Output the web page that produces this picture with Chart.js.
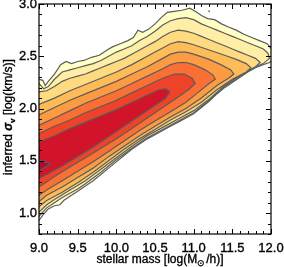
<!DOCTYPE html>
<html><head><meta charset="utf-8">
<script src="https://cdn.jsdelivr.net/npm/chart.js@4"></script>
<style>html,body{margin:0;padding:0;background:#fff}#wrap{width:284px;height:267px;position:relative}</style>
</head><body><div id="wrap"><canvas id="c" width="284" height="267"></canvas></div>
<script>
// axis ranges and tick labels
const xRange=[9.0,12.0];
const yRange=[0.8,3.0];
const xTicks=[9.0,9.5,10.0,10.5,11.0,11.5,12.0];
const yTicks=[1.0,1.5,2.0,2.5,3.0];
const xTitle=["stellar mass [log(M","⊙","/h)]"];
const yTitle=["inferred ","σ","v"," [log(km/s)]"];

// contour polygons (x = log stellar mass, y = log sigma), outermost first
const level1=[[8.95,2.29],[9.0,2.28],[9.05,2.27],[9.08,2.22],[9.12,2.26],[9.2,2.33],[9.28,2.42],[9.35,2.45],[9.42,2.43],[9.5,2.45],[9.58,2.46],[9.68,2.49],[9.78,2.51],[9.88,2.56],[9.95,2.59],[10.05,2.62],[10.15,2.65],[10.22,2.68],[10.28,2.75],[10.34,2.73],[10.42,2.76],[10.5,2.81],[10.58,2.87],[10.66,2.92],[10.75,2.93],[10.85,2.94],[10.95,2.96],[11.02,2.93],[11.1,2.89],[11.18,2.86],[11.27,2.85],[11.36,2.81],[11.45,2.78],[11.55,2.75],[11.65,2.71],[11.75,2.68],[11.85,2.65],[11.95,2.62],[12.02,2.56],[12.04,2.48],
 [11.98,2.44],[11.9,2.42],[11.8,2.39],[11.7,2.35],[11.6,2.30],[11.5,2.25],[11.4,2.20],[11.3,2.14],[11.2,2.07],[11.1,2.01],[11.0,1.95],[10.9,1.91],[10.8,1.87],[10.7,1.83],[10.6,1.79],[10.5,1.75],[10.4,1.71],[10.3,1.66],[10.2,1.61],[10.1,1.55],[10.0,1.49],[9.9,1.43],[9.8,1.37],[9.7,1.31],[9.6,1.26],[9.5,1.21],[9.4,1.16],[9.32,1.12],[9.27,1.08],[9.2,1.07],[9.12,1.04],[9.05,0.98],[9.0,0.93],[8.95,0.89]];
const level2=[[8.95,2.25],[9.0,2.24],[9.06,2.19],[9.12,2.21],[9.2,2.28],[9.3,2.35],[9.4,2.37],[9.5,2.39],[9.6,2.41],[9.7,2.43],[9.8,2.46],[9.9,2.50],[10.0,2.54],[10.1,2.57],[10.2,2.60],[10.3,2.65],[10.4,2.69],[10.5,2.74],[10.6,2.80],[10.7,2.84],[10.8,2.86],[10.9,2.87],[11.0,2.85],[11.1,2.81],[11.2,2.78],[11.3,2.75],[11.4,2.72],[11.5,2.69],[11.6,2.66],[11.7,2.63],[11.8,2.60],[11.9,2.57],[11.96,2.53],[11.98,2.48],
 [11.9,2.43],[11.8,2.40],[11.6,2.31],[11.4,2.21],[11.2,2.08],[11.0,1.96],[10.8,1.88],[10.6,1.80],[10.4,1.72],[10.2,1.62],[10.0,1.51],[9.8,1.39],[9.6,1.28],[9.5,1.23],[9.4,1.19],[9.3,1.15],[9.2,1.10],[9.1,1.05],[9.0,0.97],[8.95,0.94]];
const level3=[[8.95,2.17],[9.0,2.16],[9.1,2.17],[9.2,2.21],[9.3,2.26],[9.4,2.29],[9.5,2.31],[9.6,2.33],[9.7,2.36],[9.8,2.39],[9.9,2.42],[10.0,2.45],[10.1,2.48],[10.2,2.52],[10.3,2.56],[10.4,2.60],[10.5,2.64],[10.6,2.69],[10.7,2.73],[10.8,2.75],[10.9,2.74],[11.0,2.72],[11.1,2.69],[11.2,2.66],[11.3,2.63],[11.4,2.60],[11.5,2.57],[11.6,2.54],[11.7,2.51],[11.8,2.48],[11.86,2.44],
 [11.8,2.40],[11.6,2.32],[11.4,2.22],[11.2,2.09],[11.0,1.98],[10.8,1.90],[10.6,1.82],[10.4,1.74],[10.2,1.64],[10.0,1.53],[9.8,1.42],[9.6,1.31],[9.4,1.22],[9.2,1.13],[9.1,1.08],[9.0,1.01],[8.95,0.98]];
const level4=[[8.95,2.05],[9.0,2.04],[9.2,2.10],[9.4,2.17],[9.6,2.23],[9.8,2.29],[10.0,2.35],[10.2,2.42],[10.4,2.50],[10.5,2.54],[10.6,2.58],[10.7,2.62],[10.8,2.64],[10.9,2.63],[11.0,2.61],[11.2,2.56],[11.4,2.51],[11.55,2.47],[11.68,2.43],[11.74,2.39],
 [11.68,2.35],[11.5,2.28],[11.3,2.18],[11.1,2.06],[10.9,1.97],[10.7,1.89],[10.5,1.80],[10.3,1.71],[10.1,1.61],[9.9,1.50],[9.7,1.39],[9.5,1.29],[9.3,1.20],[9.1,1.12],[9.0,1.06],[8.95,1.03]];
const level5=[[8.95,1.95],[9.0,1.94],[9.2,2.01],[9.4,2.08],[9.6,2.14],[9.8,2.20],[10.0,2.26],[10.2,2.33],[10.4,2.40],[10.6,2.48],[10.7,2.52],[10.8,2.54],[10.9,2.54],[11.0,2.52],[11.2,2.47],[11.35,2.42],[11.48,2.37],[11.52,2.33],
 [11.45,2.29],[11.3,2.22],[11.1,2.10],[10.9,2.00],[10.7,1.92],[10.5,1.83],[10.3,1.74],[10.1,1.64],[9.9,1.54],[9.7,1.43],[9.5,1.34],[9.3,1.25],[9.1,1.17],[9.0,1.11],[8.95,1.08]];
const level6=[[8.95,1.85],[9.0,1.84],[9.2,1.91],[9.4,1.98],[9.6,2.05],[9.8,2.11],[10.0,2.17],[10.2,2.24],[10.4,2.31],[10.6,2.38],[10.7,2.42],[10.8,2.44],[10.9,2.44],[11.0,2.42],[11.15,2.37],[11.25,2.32],[11.28,2.28],
 [11.2,2.24],[11.05,2.15],[10.9,2.06],[10.7,1.97],[10.5,1.88],[10.3,1.79],[10.1,1.69],[9.9,1.59],[9.7,1.49],[9.5,1.40],[9.3,1.31],[9.1,1.22],[9.0,1.17],[8.95,1.14]];
const level7=[[8.95,1.77],[9.0,1.76],[9.2,1.83],[9.4,1.89],[9.6,1.96],[9.8,2.02],[10.0,2.08],[10.2,2.15],[10.4,2.22],[10.6,2.29],[10.75,2.33],[10.88,2.33],[10.98,2.29],[11.02,2.24],
 [10.95,2.19],[10.8,2.11],[10.6,2.01],[10.4,1.91],[10.2,1.81],[10.0,1.71],[9.8,1.62],[9.6,1.53],[9.4,1.44],[9.2,1.35],[9.0,1.25],[8.95,1.22]];
const level8=[[8.95,1.67],[9.0,1.68],[9.2,1.74],[9.4,1.81],[9.6,1.87],[9.8,1.93],[10.0,1.99],[10.2,2.06],[10.4,2.13],[10.55,2.18],[10.64,2.19],[10.69,2.16],
 [10.64,2.10],[10.5,2.03],[10.3,1.93],[10.1,1.83],[9.9,1.73],[9.7,1.63],[9.5,1.54],[9.3,1.45],[9.1,1.37],[9.0,1.33],[8.95,1.31]];
const level9=[[8.95,1.52],[9.0,1.51],[9.08,1.49],[9.15,1.47],[9.08,1.44],[9.0,1.40],[8.95,1.38]];
const strayPoints=[[9.04,2.38],[11.2,2.93]];

const levels=[level1,level2,level3,level4,level5,level6,level7,level8,level9];
const levelColors=["#FFFFC6","#FFEFA6","#FEDB80","#FEBC58","#FD9B43","#FA7034","#EE4329","#D2142B","#B00A32"];

const FONT="'Liberation Sans', Arial, Helvetica, sans-serif";
const lineColor="#5c5c5c";

const datasets=levels.map((pts,i)=>{
  const d=pts.map(p=>({x:p[0],y:p[1]}));
  d.push({x:pts[0][0],y:pts[0][1]});
  return {data:d,showLine:true,fill:'shape',backgroundColor:levelColors[i],borderColor:lineColor,borderWidth:1.2,pointRadius:0,tension:0,order:levels.length-i+1,clip:0};
});
datasets.push({data:strayPoints.map(p=>({x:p[0],y:p[1]})),showLine:false,pointRadius:1,pointBackgroundColor:"#777",pointBorderWidth:0,order:0,clip:0});

function txt(ctx,s,x,y){ctx.fillText(s,x,y);ctx.strokeText(s,x,y);}

const frame={id:'frame',afterDraw(chart){
  const ctx=chart.ctx, a=chart.chartArea, xs=chart.scales.x, ys=chart.scales.y;
  ctx.save();
  ctx.strokeStyle="#000"; ctx.lineWidth=1.2;
  ctx.strokeRect(a.left,a.top,a.right-a.left,a.bottom-a.top);
  ctx.lineWidth=1;
  ctx.beginPath();
  for(let k=Math.round(xRange[0]*10);k<=Math.round(xRange[1]*10);k++){
    const px=Math.round(xs.getPixelForValue(k/10))+0.5, L=(k%5===0)?5:3;
    ctx.moveTo(px,a.bottom);ctx.lineTo(px,a.bottom-L);
    ctx.moveTo(px,a.top);ctx.lineTo(px,a.top+L);
  }
  for(let k=Math.round(yRange[0]*10);k<=Math.round(yRange[1]*10);k++){
    const py=Math.round(ys.getPixelForValue(k/10))+0.5, L=(k%5===0)?5:3;
    ctx.moveTo(a.left,py);ctx.lineTo(a.left+L,py);
    ctx.moveTo(a.right,py);ctx.lineTo(a.right-L,py);
  }
  ctx.stroke();
  ctx.fillStyle="#000"; ctx.strokeStyle="#000"; ctx.lineWidth=0.35;
  ctx.font="13px "+FONT;
  ctx.textAlign="center";ctx.textBaseline="middle";
  xTicks.forEach(v=>txt(ctx,v.toFixed(1),xs.getPixelForValue(v),a.bottom+14));
  ctx.textAlign="right";
  yTicks.forEach(v=>txt(ctx,v.toFixed(1),a.left-2,ys.getPixelForValue(v)));
  // x title
  const f1="12px "+FONT, fs="9px "+FONT;
  ctx.textAlign="left";ctx.textBaseline="alphabetic";
  ctx.font=f1; const w0=ctx.measureText(xTitle[0]).width, w2=ctx.measureText(xTitle[2]).width;
  ctx.font=fs; const w1=ctx.measureText(xTitle[1]).width+1;
  let x0=(a.left+a.right)/2+5-(w0+w1+w2)/2, yb=263;
  ctx.font=f1; txt(ctx,xTitle[0],x0,yb);
  ctx.font=fs; txt(ctx,xTitle[1],x0+w0,yb+2.5);
  ctx.font=f1; txt(ctx,xTitle[2],x0+w0+w1,yb);
  // y title
  ctx.save();
  ctx.translate(12,(a.top+a.bottom)/2-2); ctx.rotate(-Math.PI/2);
  const fi="italic bold 12px "+FONT, fv="bold 8px "+FONT;
  ctx.font=f1; const u0=ctx.measureText(yTitle[0]).width, u3=ctx.measureText(yTitle[3]).width;
  ctx.font=fi; const u1=ctx.measureText(yTitle[1]).width;
  ctx.font=fv; const u2=ctx.measureText(yTitle[2]).width;
  let s=-(u0+u1+u2+u3)/2;
  ctx.font=f1; txt(ctx,yTitle[0],s,0); s+=u0;
  ctx.font=fi; txt(ctx,yTitle[1],s,0); s+=u1;
  ctx.font=fv; txt(ctx,yTitle[2],s,2.5); s+=u2;
  ctx.font=f1; txt(ctx,yTitle[3],s,0);
  ctx.restore();
  ctx.restore();
}};

new Chart(document.getElementById('c'),{
  type:'scatter',
  data:{datasets},
  options:{
    responsive:false,animation:false,devicePixelRatio:1,
    layout:{padding:{left:39,right:13,top:4,bottom:33}},
    plugins:{legend:{display:false},tooltip:{enabled:false},filler:{propagate:false}},
    scales:{
      x:{type:'linear',display:false,min:xRange[0],max:xRange[1]},
      y:{type:'linear',display:false,min:yRange[0],max:yRange[1]}
    }
  },
  plugins:[frame]
});
</script>
</body></html>
